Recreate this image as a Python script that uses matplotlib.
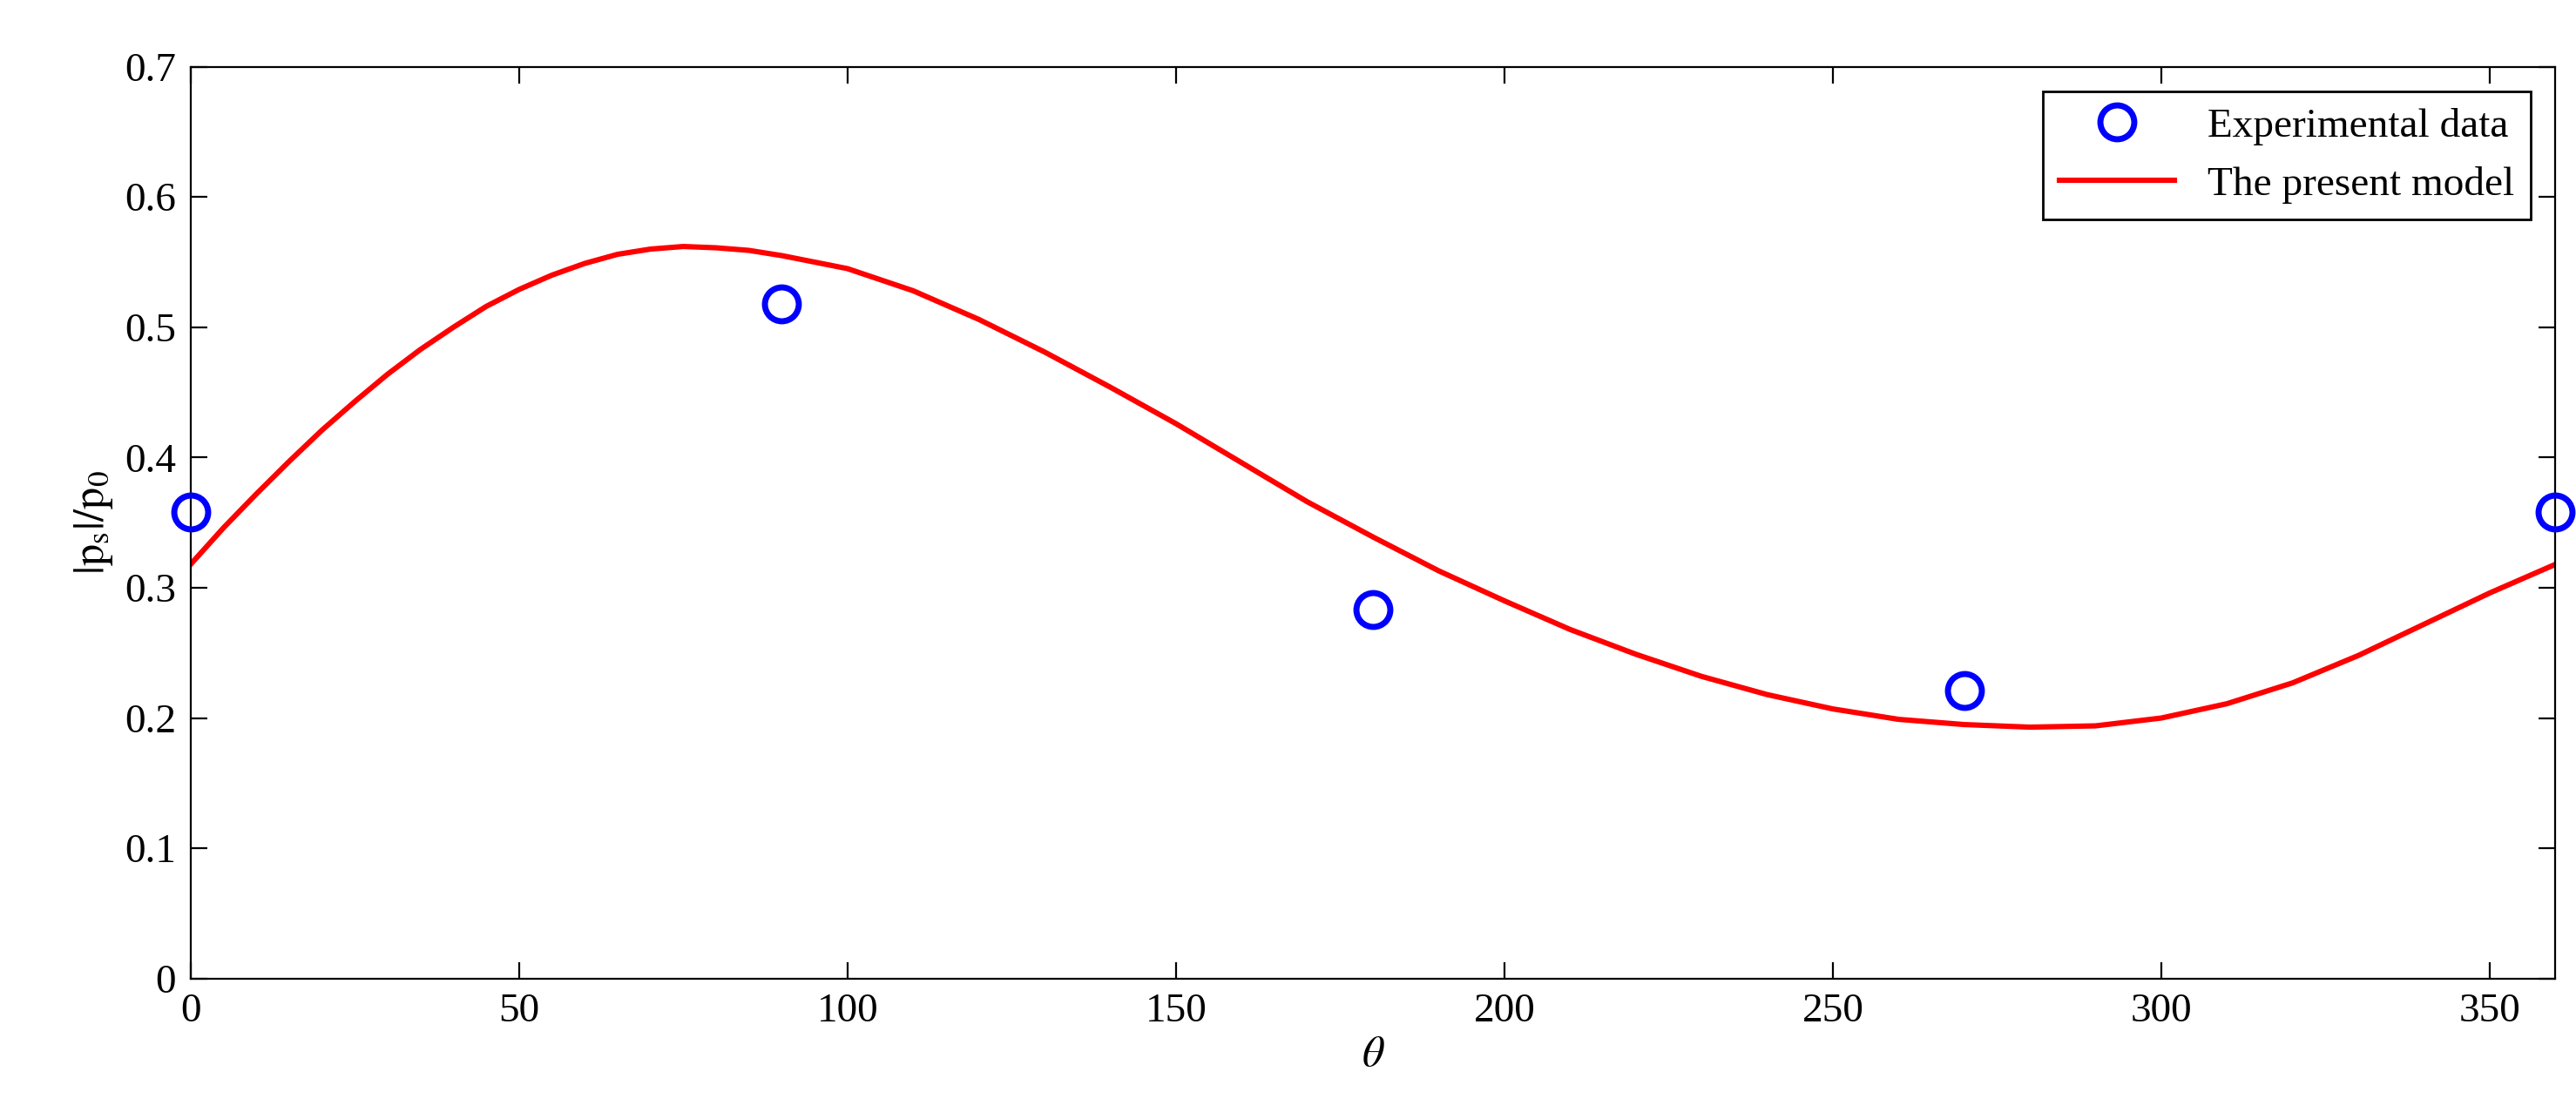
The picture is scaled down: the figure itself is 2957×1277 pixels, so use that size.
import matplotlib.pyplot as plt

plt.rcParams['font.family'] = ['Liberation Serif', 'DejaVu Serif']
plt.rcParams['mathtext.fontset'] = 'stix'

# experimental points
exp_theta = [0, 90, 180, 270, 360]
exp_val = [0.358, 0.518, 0.283, 0.221, 0.358]

# model curve
model_theta = [0, 5, 10, 15, 20, 25, 30, 35, 40, 45, 50, 55, 60, 65, 70, 75, 80, 85, 90,
               100, 110, 120, 130, 140, 150, 160, 170, 180, 190, 200, 210, 220, 230, 240,
               250, 260, 270, 280, 290, 300, 310, 320, 330, 340, 350, 360]
model_val = [0.318, 0.346, 0.372, 0.397, 0.421, 0.443, 0.464, 0.483, 0.500, 0.516, 0.529,
             0.540, 0.549, 0.556, 0.560, 0.562, 0.561, 0.559, 0.555,
             0.545, 0.528, 0.506, 0.481, 0.454, 0.426, 0.396, 0.366, 0.339, 0.313, 0.290,
             0.268, 0.249, 0.232, 0.218, 0.207, 0.199, 0.195, 0.193, 0.194, 0.200, 0.211,
             0.227, 0.248, 0.272, 0.296, 0.318]

fig = plt.figure(figsize=(14.785, 6.385), dpi=200)
ax = fig.add_axes([0.074, 0.12, 0.918, 0.82])

ax.plot(exp_theta, exp_val, 'o', mfc='none', mec='#0000ff', mew=2.5, ms=14,
        label='Experimental data', clip_on=False, zorder=3)
ax.plot(model_theta, model_val, '-', color='#ff0000', lw=2.2, label='The present model')

ax.set_xlim(0, 360)
ax.set_ylim(0, 0.7)
ax.set_xticks(range(0, 361, 50))
ax.set_yticks([0, 0.1, 0.2, 0.3, 0.4, 0.5, 0.6, 0.7])
ax.set_yticklabels(['0', '0.1', '0.2', '0.3', '0.4', '0.5', '0.6', '0.7'])
ax.tick_params(direction='in', labelsize=17, top=True, right=True, length=7, pad=6)
ax.set_xlabel(r'$\theta$', fontsize=18, labelpad=2)
ax.set_ylabel(r'$|\mathrm{p_s}|/\mathrm{p_0}$', fontsize=18, labelpad=4)
ax.legend(loc='upper right', fontsize=17, fancybox=False, edgecolor='black',
          framealpha=1, handlelength=2.8, borderaxespad=0.6)

fig.savefig('out.png', dpi=200)
